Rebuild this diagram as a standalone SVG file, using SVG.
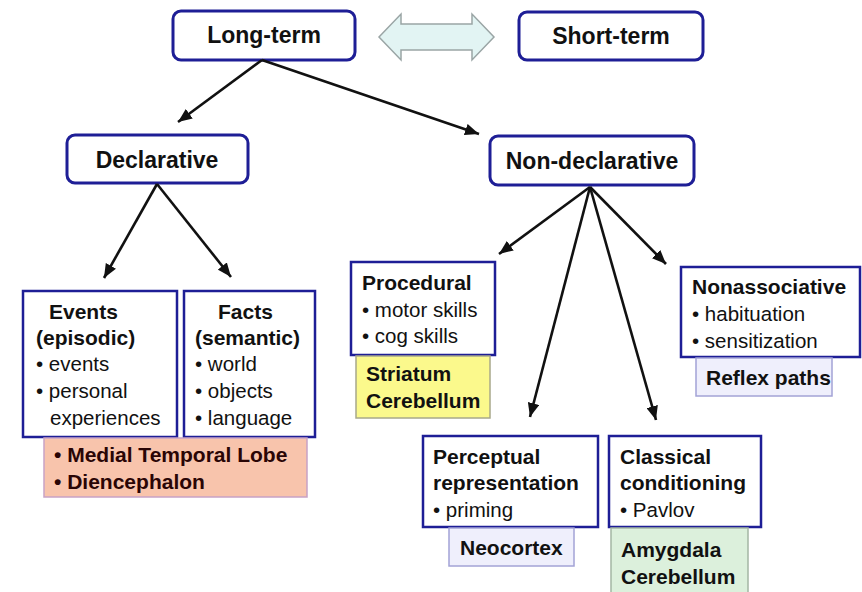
<svg xmlns="http://www.w3.org/2000/svg" width="862" height="592" viewBox="0 0 862 592">
<defs>
<marker id="ah" viewBox="0 0 12 10" refX="12" refY="5" markerWidth="14" markerHeight="12" markerUnits="userSpaceOnUse" orient="auto">
<path d="M0,0 L12,5 L0,10 z" fill="#111"/>
</marker>
</defs>
<style>
.top{fill:#fff;stroke:#1e1e96;stroke-width:3}
.box{fill:#fff;stroke:#1e1e96;stroke-width:2.5}
.t{font-family:"Liberation Sans",Arial,sans-serif;fill:#111}
.tt{font-size:23px;font-weight:bold;text-anchor:middle}
.h{font-size:21px;font-weight:bold}
.b{font-size:20.5px}
.con line{stroke:#111;stroke-width:2.6;marker-end:url(#ah)}
</style>
<rect width="862" height="592" fill="#fff"/>

<g id="double-arrow">
<polygon points="379,37 401,14 401,24 472,24 472,14 494,37 472,60 472,50 401,50 401,60" fill="#e2f4f3" stroke="#9aa5a5" stroke-width="1.5"/>
</g>

<g id="long-term">
<rect class="top" x="173" y="11" width="182" height="49" rx="8"/>
<text class="t tt" x="264" y="43">Long-term</text>
</g>
<g id="short-term">
<rect class="top" x="519" y="12" width="184" height="48" rx="8"/>
<text class="t tt" x="611" y="44">Short-term</text>
</g>
<g id="declarative">
<rect class="top" x="67" y="135" width="181" height="48" rx="8"/>
<text class="t tt" x="157" y="168">Declarative</text>
</g>
<g id="non-declarative">
<rect class="top" x="490" y="136" width="204" height="49" rx="8"/>
<text class="t tt" x="592" y="169">Non-declarative</text>
</g>

<g id="events">
<rect class="box" x="23" y="291" width="154" height="146"/>
<text class="t h" x="49" y="319">Events</text>
<text class="t h" x="36" y="345">(episodic)</text>
<text class="t b" x="36" y="371">• events</text>
<text class="t b" x="36" y="398">• personal</text>
<text class="t b" x="50" y="425">experiences</text>
</g>
<g id="facts">
<rect class="box" x="184" y="291" width="131" height="146"/>
<text class="t h" x="218" y="319">Facts</text>
<text class="t h" x="195" y="345">(semantic)</text>
<text class="t b" x="195" y="371">• world</text>
<text class="t b" x="195" y="398">• objects</text>
<text class="t b" x="195" y="425">• language</text>
</g>
<g id="mtl">
<rect x="44" y="438" width="263" height="59" fill="#f8c4ac" stroke="#c7a2c6" stroke-width="1.5"/>
<text class="t h" x="54" y="462" style="fill:#2a0505">• Medial Temporal Lobe</text>
<text class="t h" x="54" y="489" style="fill:#2a0505">• Diencephalon</text>
</g>

<g id="procedural">
<rect class="box" x="351" y="262" width="144" height="93"/>
<text class="t h" x="362" y="290">Procedural</text>
<text class="t b" x="362" y="317">• motor skills</text>
<text class="t b" x="362" y="343">• cog skills</text>
</g>
<g id="striatum">
<rect x="356" y="356" width="134" height="62" fill="#fbf98c" stroke="#a8a88a" stroke-width="1.5"/>
<text class="t h" x="366" y="381">Striatum</text>
<text class="t h" x="366" y="408">Cerebellum</text>
</g>

<g id="nonassociative">
<rect class="box" x="681" y="267" width="179" height="90"/>
<text class="t h" x="692" y="294">Nonassociative</text>
<text class="t b" x="692" y="321">• habituation</text>
<text class="t b" x="692" y="348">• sensitization</text>
</g>
<g id="reflex">
<rect x="696" y="358" width="136" height="38" fill="#efeffc" stroke="#a3a3d6" stroke-width="1.5"/>
<text class="t h" x="706" y="385">Reflex paths</text>
</g>

<g id="perceptual">
<rect class="box" x="423" y="436" width="175" height="91"/>
<text class="t h" x="433" y="464">Perceptual</text>
<text class="t h" x="433" y="490">representation</text>
<text class="t b" x="433" y="517">• priming</text>
</g>
<g id="neocortex">
<rect x="449" y="528" width="125" height="38" fill="#efeffc" stroke="#a3a3d6" stroke-width="1.5"/>
<text class="t h" x="460" y="555">Neocortex</text>
</g>

<g id="classical">
<rect class="box" x="609" y="436" width="152" height="91"/>
<text class="t h" x="620" y="464">Classical</text>
<text class="t h" x="620" y="490">conditioning</text>
<text class="t b" x="620" y="517">• Pavlov</text>
</g>
<g id="amygdala">
<rect x="611" y="528" width="137" height="66" fill="#dcf0dc" stroke="#a4b6a4" stroke-width="1.5"/>
<text class="t h" x="621" y="557">Amygdala</text>
<text class="t h" x="621" y="584">Cerebellum</text>
</g>

<g id="connectors" class="con">
<line x1="262" y1="60" x2="178" y2="122"/>
<line x1="262" y1="60" x2="479" y2="134"/>
<line x1="157" y1="184" x2="104" y2="278"/>
<line x1="157" y1="184" x2="231" y2="277"/>
<line x1="590" y1="187" x2="499" y2="254"/>
<line x1="590" y1="187" x2="530" y2="417"/>
<line x1="590" y1="187" x2="656" y2="420"/>
<line x1="590" y1="187" x2="666" y2="264"/>
</g>
</svg>
